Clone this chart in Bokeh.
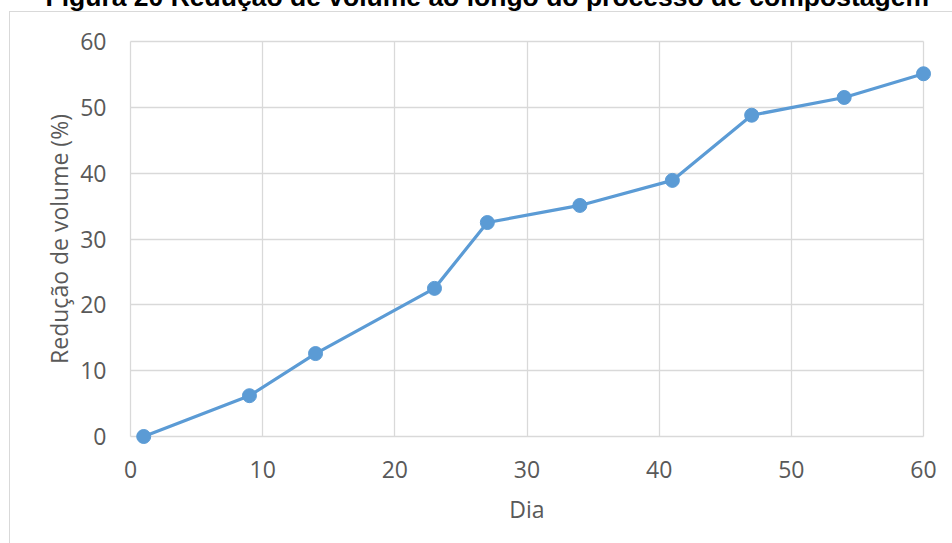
from bokeh.plotting import figure
from bokeh.models import FixedTicker, Range1d
from bokeh.embed import file_html
from bokeh.resources import INLINE

# Volume reduction over the composting process
dias = [1, 9, 14, 23, 27, 34, 41, 47, 54, 60]
reducao = [0, 6.2, 12.6, 22.5, 32.5, 35.1, 38.9, 48.8, 51.5, 55.1]
x_ticks = [0, 10, 20, 30, 40, 50, 60]
y_ticks = [0, 10, 20, 30, 40, 50, 60]

titulo = "Figura 20 Redução de volume ao longo do processo de compostagem"
BLUE = "#5B9BD5"
GRID = "#D9D9D9"
TEXT = "#595959"
FONT = "Open Sans"

# page is shifted up by SHIFT px so the title runs off the top edge
SHIFT = 44
PAD = 10  # room around the axes so edge markers are not cut
px_x = (923 - 130) / 60.0
px_y = (436 - 41) / 60.0

p = figure(width=952, height=543 + SHIFT, output_backend="svg",
           toolbar_location=None,
           x_range=Range1d(-PAD / px_x, 60 + PAD / px_x),
           y_range=Range1d(-PAD / px_y, 60 + PAD / px_y),
           min_border_left=130 - PAD, min_border_right=952 - 923 - PAD,
           min_border_top=41 - PAD + SHIFT, min_border_bottom=543 - 436 - PAD)
p.outline_line_color = None
p.background_fill_color = "white"
p.border_fill_alpha = 0
p.styles = {
    "margin-top": f"-{SHIFT}px",
    "background-color": "white",
    "background-image": f"linear-gradient({GRID},{GRID}), linear-gradient({GRID},{GRID})",
    "background-repeat": "no-repeat",
    "background-position": f"9px {11 + SHIFT}px, 9px {11 + SHIFT}px",
    "background-size": "1px 100%, 100% 1px",
}

p.title.text = titulo
p.title.align = "left"
p.title.offset = -75
p.title.standoff = 39
p.title.text_font = "Liberation Sans"
p.title.text_font_style = "bold"
p.title.text_font_size = "26.5px"
p.title.text_color = "#000000"

for ax in (p.xaxis[0], p.yaxis[0]):
    ax.major_tick_line_color = None
    ax.minor_tick_line_color = None
    ax.axis_line_color = None
    ax.major_label_text_font = FONT
    ax.major_label_text_font_size = "23px"
    ax.major_label_text_color = TEXT
    ax.axis_label_text_font = FONT
    ax.axis_label_text_font_size = "23px"
    ax.axis_label_text_color = TEXT
    ax.axis_label_text_font_style = "normal"

p.xaxis.ticker = FixedTicker(ticks=x_ticks)
p.yaxis.ticker = FixedTicker(ticks=y_ticks)
p.xaxis.axis_label = "Dia"
p.yaxis.axis_label = "Redução de volume (%)"
p.xaxis.major_label_standoff = 8
p.yaxis.major_label_standoff = 8
p.xaxis.axis_label_standoff = 12
p.yaxis.axis_label_standoff = 2

p.xgrid.ticker = FixedTicker(ticks=x_ticks)
p.ygrid.ticker = FixedTicker(ticks=y_ticks)
p.xgrid.cross_bounds = (0, 60)
p.ygrid.cross_bounds = (0, 60)
p.xgrid.grid_line_color = GRID
p.ygrid.grid_line_color = GRID
p.xgrid.grid_line_width = 1.3
p.ygrid.grid_line_width = 1.3

p.line(dias, reducao, line_color=BLUE, line_width=3.2)
p.scatter(dias, reducao, size=14, fill_color=BLUE, line_color=BLUE)

open("out.html", "w").write(file_html(p, INLINE))
